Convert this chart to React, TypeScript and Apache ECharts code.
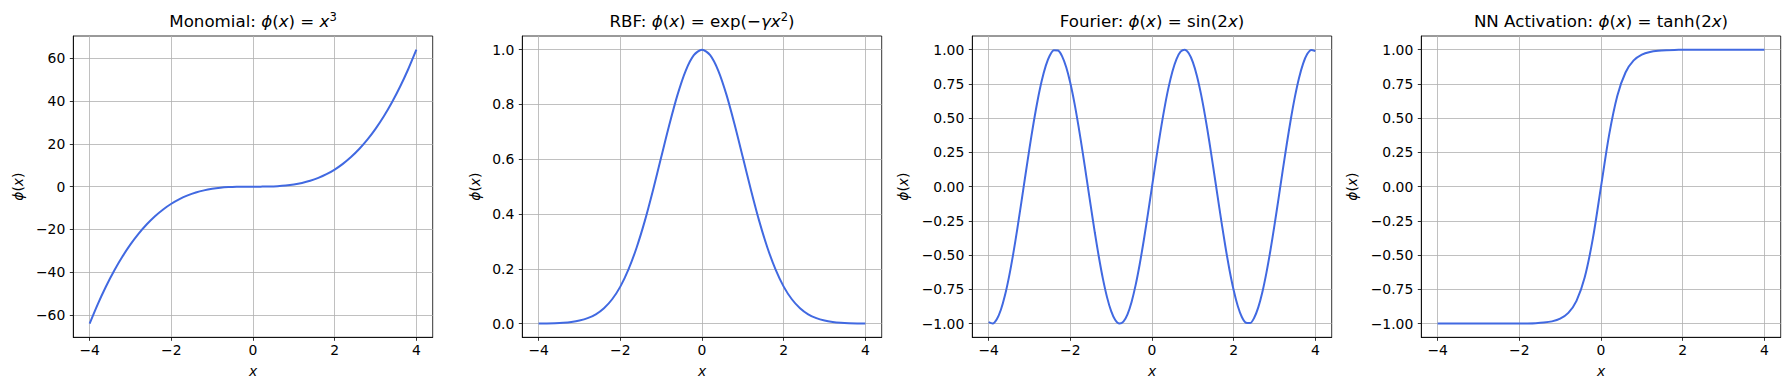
import React, { useEffect, useRef } from "react";
import * as echarts from "echarts";

const xValues = [
  -4.0, -3.8, -3.6, -3.4, -3.2, -3.0, -2.8, -2.6, -2.4, -2.2, -2.0, -1.8, -1.6, -1.4, -1.2, -1.0, -0.8, -0.6, -0.4, -0.2,
  0.0, 0.2, 0.4, 0.6, 0.8, 1.0, 1.2, 1.4, 1.6, 1.8, 2.0, 2.2, 2.4, 2.6, 2.8, 3.0, 3.2, 3.4, 3.6, 3.8, 4.0,
];

const fourierX = [
  -4.0, -3.9, -3.8, -3.7, -3.6, -3.5, -3.4, -3.3, -3.2, -3.1, -3.0, -2.9, -2.8, -2.7, -2.6, -2.5, -2.4, -2.3, -2.2, -2.1,
  -2.0, -1.9, -1.8, -1.7, -1.6, -1.5, -1.4, -1.3, -1.2, -1.1, -1.0, -0.9, -0.8, -0.7, -0.6, -0.5, -0.4, -0.3, -0.2, -0.1,
  0.0, 0.1, 0.2, 0.3, 0.4, 0.5, 0.6, 0.7, 0.8, 0.9, 1.0, 1.1, 1.2, 1.3, 1.4, 1.5, 1.6, 1.7, 1.8, 1.9,
  2.0, 2.1, 2.2, 2.3, 2.4, 2.5, 2.6, 2.7, 2.8, 2.9, 3.0, 3.1, 3.2, 3.3, 3.4, 3.5, 3.6, 3.7, 3.8, 3.9, 4.0,
];

const monomialValues = [
  -64, -54.87, -46.66, -39.3, -32.77, -27, -21.95, -17.58, -13.82, -10.65, -8, -5.83, -4.1, -2.74, -1.73, -1, -0.51, -0.22, -0.06, -0.01,
  0, 0.01, 0.06, 0.22, 0.51, 1, 1.73, 2.74, 4.1, 5.83, 8, 10.65, 13.82, 17.58, 21.95, 27, 32.77, 39.3, 46.66, 54.87, 64,
];

const rbfValues = [
  0.0003, 0.0007, 0.0015, 0.0031, 0.006, 0.0111, 0.0198, 0.034, 0.0561, 0.0889, 0.135, 0.198, 0.278, 0.375, 0.487, 0.607, 0.726, 0.835, 0.923, 0.98,
  1.0, 0.98, 0.923, 0.835, 0.726, 0.607, 0.487, 0.375, 0.278, 0.198, 0.135, 0.0889, 0.0561, 0.034, 0.0198, 0.0111, 0.006, 0.0031, 0.0015, 0.0007, 0.0003,
];

const fourierValues = [
  -0.9894, -0.9985, -0.9679, -0.8987, -0.7937, -0.657, -0.4941, -0.3115, -0.1165, 0.0831,
  0.2794, 0.4646, 0.6313, 0.7728, 0.8835, 0.9589, 0.9962, 0.9937, 0.9516, 0.8716,
  0.7568, 0.6119, 0.4425, 0.2555, 0.0584, -0.1411, -0.335, -0.5155, -0.6755, -0.8085,
  -0.9093, -0.9738, -0.9996, -0.9854, -0.932, -0.8415, -0.7174, -0.5646, -0.3894, -0.1987,
  0.0,
  0.1987, 0.3894, 0.5646, 0.7174, 0.8415, 0.932, 0.9854, 0.9996, 0.9738, 0.9093,
  0.8085, 0.6755, 0.5155, 0.335, 0.1411, -0.0584, -0.2555, -0.4425, -0.6119, -0.7568,
  -0.8716, -0.9516, -0.9937, -0.9962, -0.9589, -0.8835, -0.7728, -0.6313, -0.4646, -0.2794,
  -0.0831, 0.1165, 0.3115, 0.4941, 0.657, 0.7937, 0.8987, 0.9679, 0.9985, 0.9894,
];

const tanhValues = [
  -1.0, -1.0, -1.0, -1.0, -1.0, -1.0, -1.0, -0.9999, -0.9999, -0.9997, -0.9993, -0.9985, -0.9967, -0.9926, -0.9837, -0.964, -0.9217, -0.8337, -0.664, -0.3799,
  0.0, 0.3799, 0.664, 0.8337, 0.9217, 0.964, 0.9837, 0.9926, 0.9967, 0.9985, 0.9993, 0.9997, 0.9999, 0.9999, 1.0, 1.0, 1.0, 1.0, 1.0, 1.0, 1.0,
];

const xTicks = [-4, -2, 0, 2, 4];
const monomialTicks = [-60, -40, -20, 0, 20, 40, 60];
const rbfTicks = [0, 0.2, 0.4, 0.6, 0.8, 1.0];
const unitTicks = [-1, -0.75, -0.5, -0.25, 0, 0.25, 0.5, 0.75, 1];

const titles = [
  "Monomial: {i|ϕ}({i|x}) = {i|x}{s|3}",
  "RBF: {i|ϕ}({i|x}) = exp(−{i|γx}{s|2})",
  "Fourier: {i|ϕ}({i|x}) = sin(2{i|x})",
  "NN Activation: {i|ϕ}({i|x}) = tanh(2{i|x})",
];

const FONT = "DejaVu Sans";
const LINE_COLOR = "#4169e1";

export default function App() {
  const ref = useRef<HTMLDivElement>(null);

  useEffect(() => {
    if (!ref.current) return;
    const chart = echarts.init(ref.current, undefined, { renderer: "svg" });

    const lefts = [73.3, 522.3, 972.3, 1421.3];
    const gridW = 359.4;
    const gridTop = 36;
    const gridH = 301.3;
    const yRanges = [
      [-70.4, 70.4],
      [-0.05, 1.05],
      [-1.1, 1.1],
      [-1.1, 1.1],
    ];
    const yTicks = [monomialTicks, rbfTicks, unitTicks, unitTicks];
    const yDecimals = [0, 1, 2, 2];
    const nameGaps = [48, 40, 62, 62];
    const seriesX = [xValues, xValues, fourierX, xValues];
    const seriesValues = [monomialValues, rbfValues, fourierValues, tanhValues];

    const fmt = (v: number, d: number) => {
      const s = Math.abs(v) < 1e-9 ? (0).toFixed(d) : v.toFixed(d);
      return s.replace("-", "\u2212");
    };

    const grids = lefts.map((l) => ({
      left: l,
      top: gridTop,
      width: gridW,
      height: gridH,
      show: true,
      borderColor: "#000",
      borderWidth: 0.8,
      backgroundColor: "transparent",
      containLabel: false,
    }));

    const tickLabelStyle = {
      color: "#000",
      fontSize: 13.9,
      fontFamily: FONT,
    };

    const nameStyle = {
      color: "#000",
      fontSize: 13.9,
      fontFamily: FONT,
      rich: { i: { fontStyle: "italic", fontSize: 13.9, fontFamily: FONT, color: "#000" } },
    };

    const xAxes = lefts.map((_, i) => ({
      type: "value",
      gridIndex: i,
      min: -4.4,
      max: 4.4,
      name: "{i|x}",
      nameLocation: "middle",
      nameGap: 27,
      nameTextStyle: nameStyle,
      axisLine: { show: true, onZero: false, lineStyle: { color: "#000", width: 0.8 } },
      axisTick: { show: true, length: 3.5, inside: false, customValues: xTicks, lineStyle: { color: "#000", width: 0.8 } },
      axisLabel: {
        ...tickLabelStyle,
        margin: 6,
        customValues: xTicks,
        formatter: (v: number) => fmt(v, 0),
      },
      splitLine: { show: true, lineStyle: { color: "#b0b0b0", width: 0.8 } },
    }));

    const yAxes = lefts.map((_, i) => ({
      type: "value",
      gridIndex: i,
      min: yRanges[i][0],
      max: yRanges[i][1],
      name: "{i|ϕ}({i|x})",
      nameLocation: "middle",
      nameGap: nameGaps[i],
      nameTextStyle: nameStyle,
      axisLine: { show: true, onZero: false, lineStyle: { color: "#000", width: 0.8 } },
      axisTick: { show: true, length: 3.5, inside: false, customValues: yTicks[i], lineStyle: { color: "#000", width: 0.8 } },
      axisLabel: {
        ...tickLabelStyle,
        margin: 8,
        customValues: yTicks[i],
        formatter: (v: number) => fmt(v, yDecimals[i]),
      },
      splitLine: { show: true, lineStyle: { color: "#b0b0b0", width: 0.8 } },
    }));

    const series = seriesValues.map((vals, i) => ({
      type: "line",
      xAxisIndex: i,
      yAxisIndex: i,
      data: seriesX[i].map((x, k) => [x, vals[k]]),
      showSymbol: false,
      smooth: 0.3,
      lineStyle: { color: LINE_COLOR, width: 2 },
      itemStyle: { color: LINE_COLOR },
      z: 3,
    }));

    const titleGraphics = titles.map((t, i) => ({
      type: "text",
      x: lefts[i] + gridW / 2,
      y: 21,
      style: {
        text: t,
        fill: "#000",
        fontSize: 16.67,
        fontFamily: FONT,
        align: "center",
        verticalAlign: "middle",
        lineHeight: 20,
        rich: {
          i: { fontStyle: "italic", fontSize: 16.67, fontFamily: FONT, fill: "#000", lineHeight: 20 },
          s: { fontSize: 11.5, fontFamily: FONT, fill: "#000", lineHeight: 12, verticalAlign: "top" },
        },
      },
    }));

    chart.setOption({
      animation: false,
      backgroundColor: "#fff",
      textStyle: { fontFamily: FONT },
      grid: grids,
      xAxis: xAxes,
      yAxis: yAxes,
      series,
      graphic: titleGraphics,
    });

    return () => chart.dispose();
  }, []);

  return (
    <div
      ref={ref}
      style={{ position: "absolute", left: 0, top: 0, width: 1789, height: 390 }}
    />
  );
}
